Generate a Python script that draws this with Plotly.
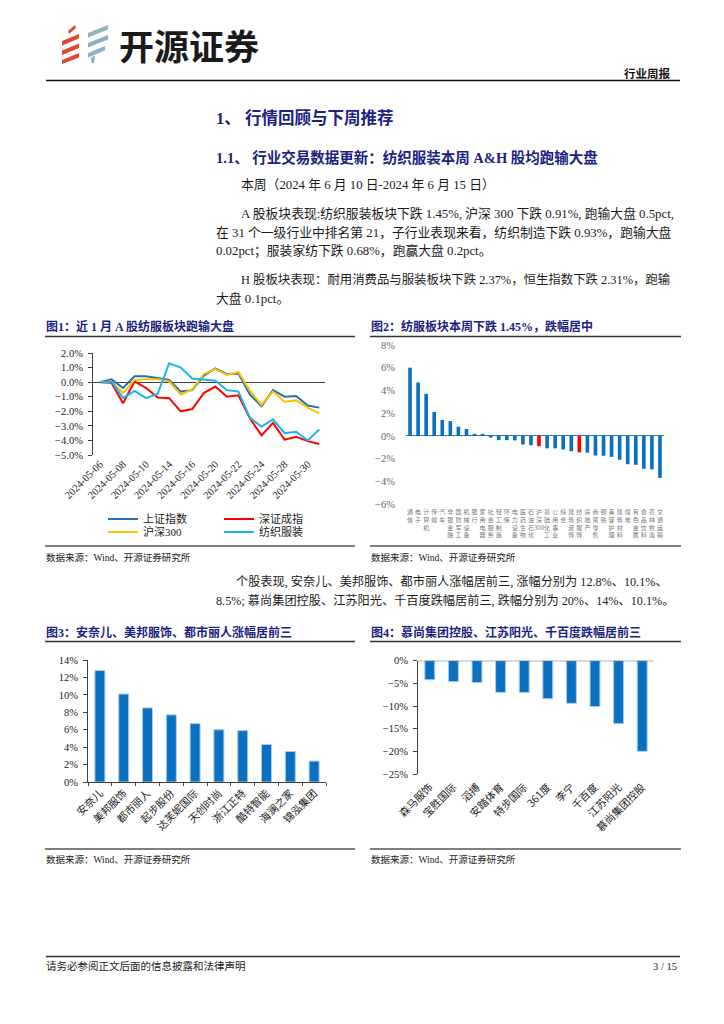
import plotly.graph_objects as go

W, H = 724, 1024
OFF = 8  # default page margin of the html body
SERIF = "Liberation Serif, Noto Sans CJK SC"
SANS = "Noto Sans CJK SC"
NAVY = "#1b2280"

def fx(p):
    return (p - OFF) / W

def fy(p):
    return 1 - (p - OFF) / H

# ---------------- data ----------------
# Fig 1: cumulative change (%) over the last month
dates = ["2024-05-06", "2024-05-07", "2024-05-08", "2024-05-09", "2024-05-10",
         "2024-05-13", "2024-05-14", "2024-05-15", "2024-05-16", "2024-05-17",
         "2024-05-20", "2024-05-21", "2024-05-22", "2024-05-23", "2024-05-24",
         "2024-05-27", "2024-05-28", "2024-05-29", "2024-05-30", "2024-05-31"]
date_ticks = dates[::2]
sh_index = [0, 0.2, -0.4, 0.4, 0.4, 0.25, 0.15, -0.65, -0.55, 0.45,
            0.95, 0.55, 0.6, -0.85, -1.65, -0.55, -1.0, -0.95, -1.6, -1.75]
sz_index = [0, -0.05, -1.45, 0.05, -0.4, -1.05, -1.1, -2.0, -1.85, -0.75,
            -0.3, -1.0, -0.9, -2.5, -3.65, -2.8, -3.95, -3.75, -4.05, -4.25]
hs300 = [0, 0.05, -0.75, 0.15, 0.2, 0.2, 0.05, -0.85, -0.5, 0.55,
         0.9, 0.5, 0.7, -0.6, -1.55, -0.65, -1.35, -1.25, -1.75, -2.15]
textile = [0, 0.05, -1.1, -0.6, -1.1, -0.8, 1.3, 1.0, 0.25, 0.2,
           0.1, -0.55, -0.65, -2.45, -3.05, -2.55, -3.5, -3.4, -4.0, -3.25]
series_names = ["上证指数", "深证成指", "沪深300", "纺织服装"]
series_colors = ["#2470b8", "#ff0000", "#ffc000", "#19b4ee"]

# Fig 2: weekly change (%) by industry
industries = ["通信", "电子", "计算机", "传媒", "汽车", "非银金融", "国防军工", "机械设备",
              "银行", "家用电器", "社会服务", "轻工制造", "环保", "电力设备", "医药生物",
              "石油石化", "沪深300", "基础化工", "公用事业", "综合", "建筑装饰", "纺织服饰",
              "房地产", "商贸零售", "钢铁", "美容护理", "建筑材料", "煤炭", "有色金属",
              "食品饮料", "农林牧渔", "交通运输"]
industry_chg = [6.0, 4.7, 3.7, 2.1, 1.4, 1.3, 0.8, 0.6, 0.17, 0.15, -0.15, -0.38,
                -0.38, -0.4, -0.76, -0.82, -0.91, -1.1, -1.1, -1.2, -1.35, -1.45,
                -1.48, -1.73, -1.75, -1.85, -2.1, -2.5, -2.55, -2.9, -2.95, -3.7]
highlight = ["沪深300", "纺织服饰"]

# Fig 3: top gainers (%)
up_stocks = ["安奈儿", "美邦服饰", "都市丽人", "起步股份", "达芙妮国际",
             "天创时尚", "浙江正特", "酷特智能", "海澜之家", "锦泓集团"]
up_chg = [12.8, 10.1, 8.5, 7.7, 6.7, 6.0, 5.9, 4.3, 3.5, 2.4]

# Fig 4: top losers (%)
down_stocks = ["森马服饰", "宝胜国际", "滔搏", "安踏体育", "特步国际",
               "361度", "李宁", "千百度", "江苏阳光", "慕尚集团控股"]
down_chg = [-4.2, -4.6, -4.8, -7.0, -7.0, -8.4, -9.4, -10.1, -13.9, -20.0]

# ---------------- figure ----------------
fig = go.Figure()

for i, (name, vals, col) in enumerate(zip(series_names, [sh_index, sz_index, hs300, textile], series_colors)):
    fig.add_trace(go.Scatter(
        x=dates, y=vals, name=name, mode="lines",
        line=dict(color=col, width=2),
        xaxis="x", yaxis="y",
        legend="legend" if i < 2 else "legend2",
    ))

bar_cols = ["#ff0000" if c in highlight else "#0a70c2" for c in industries]
vert_labels = ["<br>".join(list(c)) if c != "沪深300" else "沪<br>深<br>300" for c in industries]
fig.add_trace(go.Bar(
    x=industries, y=industry_chg, marker=dict(color=bar_cols, line=dict(width=0)),
    width=0.45, xaxis="x2", yaxis="y2", showlegend=False,
))

fig.add_trace(go.Bar(
    x=up_stocks, y=up_chg, marker=dict(color="#0a70c2", line=dict(color="#a9cdea", width=1)),
    width=0.42, xaxis="x3", yaxis="y3", showlegend=False,
))

fig.add_trace(go.Bar(
    x=down_stocks, y=down_chg, marker=dict(color="#0a70c2", line=dict(color="#a9cdea", width=1)),
    width=0.42, xaxis="x4", yaxis="y4", showlegend=False,
))

tickfont = dict(family=SERIF, size=10.5, color="#222222")
ax_line = "#404040"

fig.update_layout(
    width=W, height=H, margin=dict(l=0, r=0, t=0, b=0, autoexpand=False),
    paper_bgcolor="white", plot_bgcolor="white",
    font=dict(family=SERIF, color="#222222"),
    xaxis=dict(domain=[fx(93), fx(325)], anchor="y", type="category", automargin=False,
               range=[-0.6, 19.5], tickvals=date_ticks, ticktext=date_ticks,
               tickangle=-45, showline=False, showgrid=False, zeroline=False,
               ticks="", tickfont=tickfont),
    yaxis=dict(domain=[fy(455), fy(353)], anchor="x", range=[-5, 2], dtick=1, automargin=False,
               tickformat=".1f", ticksuffix="%", showline=True, linecolor=ax_line,
               linewidth=1, ticks="outside", ticklen=4, tickcolor=ax_line,
               showgrid=False, zeroline=True, zerolinecolor=ax_line, zerolinewidth=1,
               tickfont=tickfont, ticklabelstandoff=3),
    xaxis2=dict(domain=[fx(406), fx(664)], anchor="y2", type="category", automargin=False,
                range=[-0.5, 31.5], tickvals=industries, ticktext=vert_labels,
                tickangle=0, showline=False, showgrid=False, zeroline=False,
                ticks="", tickfont=dict(family=SANS, size=6, color="#777777"),
                ticklabelstandoff=3),
    yaxis2=dict(domain=[fy(504), fy(345)], anchor="x2", range=[-6, 8], dtick=2, automargin=False,
                ticksuffix="%", showline=False, ticks="", showgrid=False,
                zeroline=True, zerolinecolor="#3a6fb0", zerolinewidth=1,
                tickfont=dict(family=SERIF, size=10.5, color="#666666"),
                ticklabelstandoff=10),
    xaxis3=dict(domain=[fx(88), fx(326)], anchor="y3", type="category", automargin=False,
                range=[-0.5, 9.5], tickangle=-45, showline=True, linecolor=ax_line,
                linewidth=1, showgrid=False, zeroline=False, ticks="outside",
                tickson="boundaries", ticklen=3, tickcolor=ax_line,
                tickfont=dict(family=SANS, size=10.5, color="#222222")),
    yaxis3=dict(domain=[fy(782), fy(660)], anchor="x3", range=[0, 14], dtick=2, automargin=False,
                ticksuffix="%", showline=True, linecolor=ax_line, linewidth=1,
                ticks="outside", ticklen=4, tickcolor=ax_line, showgrid=False,
                zeroline=False, tickfont=tickfont, ticklabelstandoff=3),
    xaxis4=dict(domain=[fx(418), fx(654)], anchor="y4", type="category", automargin=False,
                range=[-0.5, 9.5], tickangle=-45, showline=False, showgrid=False,
                zeroline=False, ticks="",
                tickfont=dict(family=SANS, size=10.5, color="#222222"),
                ticklabelstandoff=4),
    yaxis4=dict(domain=[fy(774), fy(660.7)], anchor="x4", range=[-25, 0], dtick=5, automargin=False,
                ticksuffix="%", showline=True, linecolor=ax_line, linewidth=1,
                ticks="outside", ticklen=4, tickcolor=ax_line, showgrid=False,
                zeroline=False, tickfont=tickfont, ticklabelstandoff=3),
    legend=dict(x=fx(103), y=fy(519), xanchor="left", yanchor="middle",
                orientation="h", entrywidth=71, entrywidthmode="pixels",
                font=dict(family=SERIF, size=11, color="#222222"),
                bgcolor="rgba(0,0,0,0)", itemwidth=30, tracegroupgap=0),
    legend2=dict(x=fx(103), y=fy(532), xanchor="left", yanchor="middle",
                 orientation="h", entrywidth=71, entrywidthmode="pixels",
                 font=dict(family=SERIF, size=11, color="#222222"),
                 bgcolor="rgba(0,0,0,0)", itemwidth=30, tracegroupgap=0),
)

shapes = []
annotations = []

def hline(x0, x1, y, color="#333333", width=1.5):
    shapes.append(dict(type="line", xref="paper", yref="paper",
                       x0=fx(x0), x1=fx(x1), y0=fy(y), y1=fy(y),
                       line=dict(color=color, width=width)))

def poly(points, color):
    path = "M " + " L ".join(f"{fx(a):.5f},{fy(b):.5f}" for a, b in points) + " Z"
    shapes.append(dict(type="path", xref="paper", yref="paper", path=path,
                       fillcolor=color, line=dict(width=0)))

def txt(x, y, s, size=12.8, color="#1a1a1a", bold=False, anchor="left", family=SERIF):
    annotations.append(dict(x=fx(x), y=fy(y), xref="paper", yref="paper",
                            text=f"<b>{s}</b>" if bold else s, showarrow=False,
                            xanchor=anchor, yanchor="middle",
                            font=dict(size=size, color=color, family=family)))

# Fig 4 zero line (top axis)
shapes.append(dict(type="line", xref="x4 domain", yref="y4", x0=0, x1=1, y0=0, y1=0,
                   line=dict(color=ax_line, width=1)))

# Logo
RED = "#de4a30"
BLUE = "#8fb1c6"
poly([(68, 31), (75, 25), (76, 28), (69, 34)], RED)
poly([(62, 41), (79, 34), (79, 38.5), (62, 45.5)], RED)
poly([(62, 50.5), (79, 43.5), (79, 48), (62, 55)], RED)
poly([(62, 60), (79, 53), (79, 57.5), (62, 64)], RED)
poly([(88, 33), (108, 25), (108, 29.5), (88, 37.5)], BLUE)
poly([(88, 43), (108, 35), (108, 39.5), (88, 47.5)], BLUE)
poly([(88, 53), (105, 46), (105, 50.5), (88, 57.5)], BLUE)
poly([(91, 57), (95, 56), (94, 63), (91.5, 63)], BLUE)
txt(117, 44, "开源证券", size=35, color="#1a1a1a", bold=True, family=SANS)

# Header
txt(673, 73, "行业周报", size=11.5, color="#111111", bold=True, anchor="right", family=SANS)
hline(46, 680, 80.5, color="#111111", width=1.5)

# Section headings
txt(214, 118, "1、 行情回顾与下周推荐", size=16.5, color=NAVY, bold=True)
txt(214, 157, "1.1、 行业交易数据更新：纺织服装本周 A&amp;H 股均跑输大盘", size=14.5, color=NAVY, bold=True)

# Body text
txt(239, 185, "本周（2024 年 6 月 10 日-2024 年 6 月 15 日）")
txt(239, 213, "A 股板块表现:纺织服装板块下跌 1.45%, 沪深 300 下跌 0.91%, 跑输大盘 0.5pct,")
txt(214, 232, "在 31 个一级行业中排名第 21，子行业表现来看，纺织制造下跌 0.93%，跑输大盘")
txt(214, 251, "0.02pct；服装家纺下跌 0.68%，跑赢大盘 0.2pct。")
txt(239, 279, "H 股板块表现：耐用消费品与服装板块下跌 2.37%，恒生指数下跌 2.31%，跑输", size=12.4)
txt(214, 298, "大盘 0.1pct。")

# Figure titles and rules
txt(44, 326, "图1：近 1 月 A 股纺服板块跑输大盘", size=12, color=NAVY, bold=True)
txt(369, 326, "图2：纺服板块本周下跌 1.45%，跌幅居中", size=12, color=NAVY, bold=True)
hline(45, 355, 336.5)
hline(370, 681, 336.5)
hline(45, 355, 546, color="#555555")
hline(370, 681, 546, color="#555555")
txt(44, 557, "数据来源：Wind、开源证券研究所", size=9.5)
txt(369, 557, "数据来源：Wind、开源证券研究所", size=9.5)

txt(234, 581, "个股表现, 安奈儿、美邦服饰、都市丽人涨幅居前三, 涨幅分别为 12.8%、10.1%、", size=12.2)
txt(214, 600, "8.5%; 慕尚集团控股、江苏阳光、千百度跌幅居前三, 跌幅分别为 20%、14%、10.1%。", size=12.2)

txt(44, 632, "图3：安奈儿、美邦服饰、都市丽人涨幅居前三", size=12, color=NAVY, bold=True)
txt(369, 632, "图4：慕尚集团控股、江苏阳光、千百度跌幅居前三", size=12, color=NAVY, bold=True)
hline(45, 355, 641.5)
hline(370, 681, 641.5)
hline(45, 355, 849, color="#555555")
hline(370, 681, 849, color="#555555")
txt(44, 859, "数据来源：Wind、开源证券研究所", size=9.5)
txt(369, 859, "数据来源：Wind、开源证券研究所", size=9.5)

# Footer
hline(46, 680, 956.5, color="#333333", width=1.5)
txt(44, 966, "请务必参阅正文后面的信息披露和法律声明", size=10.5)
txt(679, 966, "3 / 15", size=10.5, anchor="right")

fig.update_layout(shapes=shapes, annotations=annotations)
fig.write_html("out.html")
